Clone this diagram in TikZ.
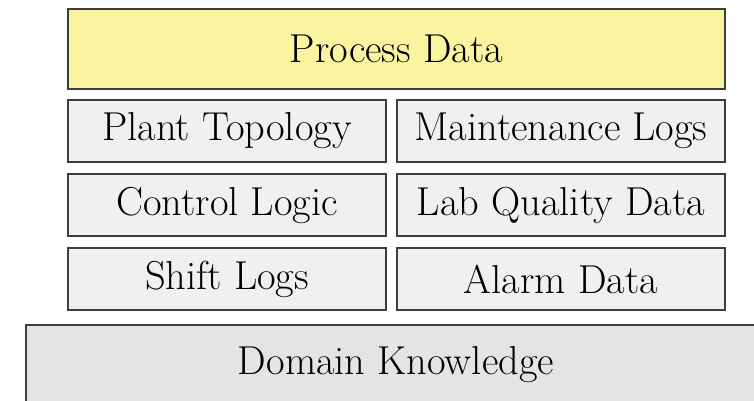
\documentclass[tikz,border=0pt]{standalone}
\usetikzlibrary{positioning}
\definecolor{procYellow}{RGB}{250,243,160}
\definecolor{cellGray}{RGB}{240,240,240}
\definecolor{baseGray}{RGB}{228,228,228}
\definecolor{edgeGray}{RGB}{62,62,62}
\begin{document}
\begin{tikzpicture}[x=1pt,y=1pt,
			boxStyle/.style={draw=edgeGray, line width=1pt, inner sep=0pt, align=center, font=\fontsize{20.2}{24}\selectfont},
			proc/.style={boxStyle, fill=procYellow, minimum width=328.5pt, minimum height=40pt},
			cellL/.style={boxStyle, fill=cellGray, minimum width=159pt, minimum height=31pt},
			cellR/.style={cellL, minimum width=164pt},
			base/.style={boxStyle, fill=baseGray, minimum width=370pt, minimum height=40pt}]
			
			\useasboundingbox (0,0) rectangle (377,-200.5);
			
			\node[proc, anchor=north west] (proc) at (33.5,-4) {Process Data};
			
			\node[cellL, below=4.5pt of proc.south west, anchor=north west] (topo) {Plant Topology};
			\node[cellR, below=4.5pt of proc.south east, anchor=north east] (maint) {Maintenance Logs};
			\node[cellL, below=5pt of topo] (ctrl) {Control Logic};
			\node[cellR, below=5pt of maint] (lab) {Lab Quality Data};
			\node[cellL, below=5pt of ctrl] (shift) {Shift Logs};
			\node[cellR, below=5pt of lab] (alarm) {Alarm Data};
			
			%\node below the stack, runs off the page
			\node[base, below=6.5pt of shift.south west, anchor=north west, xshift=-21pt] (domain) {Domain Knowledge};
		\end{tikzpicture}
\end{document}
